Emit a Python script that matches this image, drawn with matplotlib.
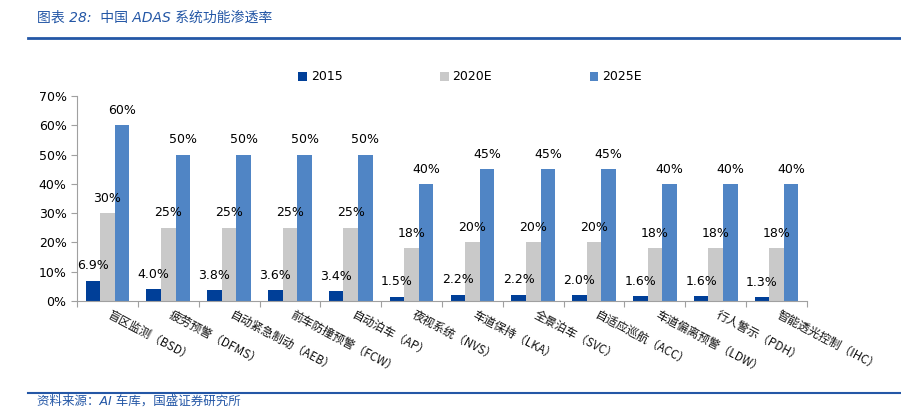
import matplotlib.pyplot as plt
import numpy as np

plt.rcParams['font.family'] = ['DejaVu Sans', 'Noto Sans CJK SC']

categories = ['盲区监测（BSD）', '疲劳预警（DFMS）', '自动紧急制动（AEB）', '前车防撞预警（FCW）',
              '自动泊车（AP）', '夜视系统（NVS）', '车道保持（LKA）', '全景泊车（SVC）',
              '自适应巡航（ACC）', '车道偏离预警（LDW）', '行人警示（PDH）', '智能透光控制（IHC）']
v2015 = [6.9, 4.0, 3.8, 3.6, 3.4, 1.5, 2.2, 2.2, 2.0, 1.6, 1.6, 1.3]
v2020 = [30, 25, 25, 25, 25, 18, 20, 20, 20, 18, 18, 18]
v2025 = [60, 50, 50, 50, 50, 40, 45, 45, 45, 40, 40, 40]
series_names = ['2015', '2020E', '2025E']
colors = ['#003f98', '#c9c9c9', '#5085c5']

W, H = 901, 409
fig = plt.figure(figsize=(W / 100, H / 100), dpi=100)
ax = fig.add_axes([77 / W, (H - 301) / H, 730 / W, (301 - 96) / H])

x = np.arange(len(categories))
bw = 0.24
b1 = ax.bar(x - bw, v2015, bw, color=colors[0], label=series_names[0])
b2 = ax.bar(x, v2020, bw, color=colors[1], label=series_names[1])
b3 = ax.bar(x + bw, v2025, bw, color=colors[2], label=series_names[2])

ax.bar_label(b1, labels=['%.1f%%' % v for v in v2015], padding=6, fontsize=9)
ax.bar_label(b2, labels=['%d%%' % v for v in v2020], padding=6, fontsize=9)
ax.bar_label(b3, labels=['%d%%' % v for v in v2025], padding=6, fontsize=9)

ax.set_xlim(-0.5, len(categories) - 0.5)
ax.set_ylim(0, 70)
ax.set_yticks(range(0, 71, 10))
ax.set_yticklabels(['%d%%' % t for t in range(0, 71, 10)], fontsize=9)
ax.set_xticks(np.arange(len(categories) + 1) - 0.5)
ax.set_xticklabels([])
ax.tick_params(axis='x', length=4, color='#a0a0a0')
ax.tick_params(axis='y', length=4, color='#a0a0a0')
for s in ['top', 'right']:
    ax.spines[s].set_visible(False)
for s in ['left', 'bottom']:
    ax.spines[s].set_color('#a0a0a0')

for i, c in enumerate(categories):
    ax.text(i + 0.02, -4.5, c, rotation=-28, rotation_mode='anchor', ha='left', va='center',
            fontsize=8.5, family=['Noto Sans CJK SC', 'DejaVu Sans'], color='#111111')

fig.legend(handles=[b1, b2, b3], labels=series_names, loc='center', bbox_to_anchor=(470 / W, 1 - 77 / H),
           ncol=3, frameon=False, fontsize=9, handlelength=0.7, handleheight=0.7,
           handletextpad=0.3, columnspacing=7.8)

blue = '#2457a6'
fig.add_artist(plt.Line2D([28 / W, 1], [1 - 38 / H, 1 - 38 / H], color=blue, lw=2))
fig.add_artist(plt.Line2D([28 / W, 1], [1 - 393 / H, 1 - 393 / H], color=blue, lw=1.5))
fig.text(37 / W, 1 - 18 / H, '图表 28:  中国 ADAS 系统功能渗透率', fontsize=10, color=blue,
         style='italic', va='center', family=['DejaVu Sans', 'Noto Sans CJK SC'])
fig.text(37 / W, 1 - 401 / H, '资料来源：AI 车库，国盛证券研究所', fontsize=9, color=blue,
         style='italic', va='center', family=['DejaVu Sans', 'Noto Sans CJK SC'])

fig.savefig('out.png', dpi=100)
